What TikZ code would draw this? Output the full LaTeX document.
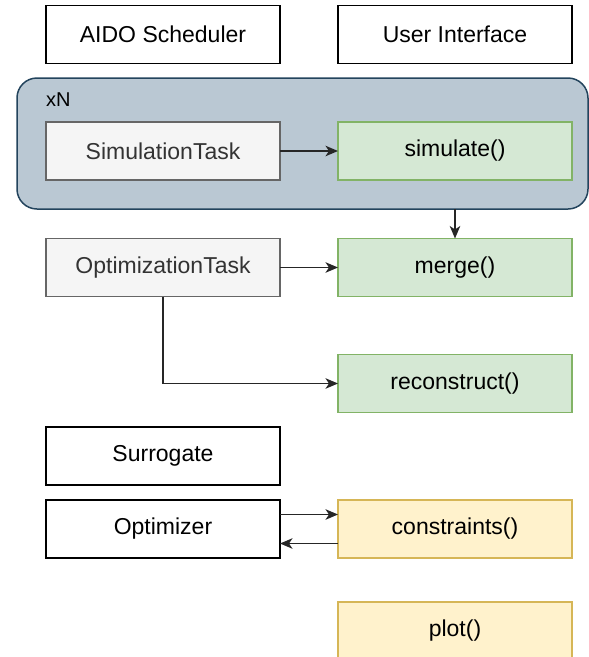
\documentclass[tikz,border=0pt]{standalone}
\usepackage{fontspec}
\setmainfont{Liberation Sans}
\usetikzlibrary{arrows.meta}
\definecolor{grayfill}{HTML}{F5F5F5}
\definecolor{graydraw}{HTML}{666666}
\definecolor{graytext}{HTML}{333333}
\definecolor{greenfill}{HTML}{D5E8D4}
\definecolor{greendraw}{HTML}{82B366}
\definecolor{yellowfill}{HTML}{FFF2CC}
\definecolor{yellowdraw}{HTML}{D6B656}
\definecolor{contfill}{HTML}{BAC8D3}
\definecolor{contdraw}{HTML}{23445D}
\tikzset{
  box/.style={rectangle, draw=black, fill=white, line width=1.5pt, minimum width=234pt, minimum height=58pt, inner sep=0pt, outer sep=0pt, font=\fontsize{23}{27}\selectfont},
  graybox/.style={box, draw=graydraw, fill=grayfill, text=graytext},
  greenbox/.style={box, draw=greendraw, fill=greenfill},
  yellowbox/.style={box, draw=yellowdraw, fill=yellowfill},
  container/.style={rectangle, draw=contdraw, fill=contfill, line width=1.5pt, rounded corners=20pt, minimum width=571pt, minimum height=131pt, inner sep=0pt, outer sep=0pt},
  conn/.style={line width=1.5pt, draw=black!85, -{Stealth[length=12.5pt,width=10.5pt,inset=3.5pt]}},
}
\begin{document}
\begin{tikzpicture}[x=1pt,y=-1pt]
\useasboundingbox (0,0) rectangle (589,657);
\fill[white] (0,0) rectangle (589,657);
\node[box] (sched) at (163,34.5) {AIDO Scheduler};
\node[box] (ui) at (455,34.5) {User Interface};
\node[container] (cont) at (302.5,143.5) {};
\node[anchor=west, inner sep=0pt, font=\fontsize{20}{24}\selectfont] (xn) at (46,100) {xN};
\node[graybox] (simtask) at (163,151) {SimulationTask};
\node[greenbox] (simulate) at (455,151) {simulate()};
\node[graybox] (opttask) at (163,267.5) {OptimizationTask};
\node[greenbox] (merge) at (455,267.5) {merge()};
\node[greenbox] (reco) at (455,383.5) {reconstruct()};
\node[box] (surr) at (163,456) {Surrogate};
\node[box] (optim) at (163,529) {Optimizer};
\node[yellowbox] (constr) at (455,529) {constraints()};
\node[yellowbox] (plot) at (455,631) {plot()};
\draw[conn] (simtask) -- (simulate);
\draw[conn] (simulate.south |- cont.south) -- (merge.north);
\draw[conn] (opttask) -- (merge);
\draw[conn] (opttask.south) |- (reco.west);
\draw[conn] ([yshift=14.5pt]optim.east) -- ([yshift=14.5pt]constr.west);
\draw[conn] ([yshift=-14.5pt]constr.west) -- ([yshift=-14.5pt]optim.east);
\end{tikzpicture}
\end{document}
